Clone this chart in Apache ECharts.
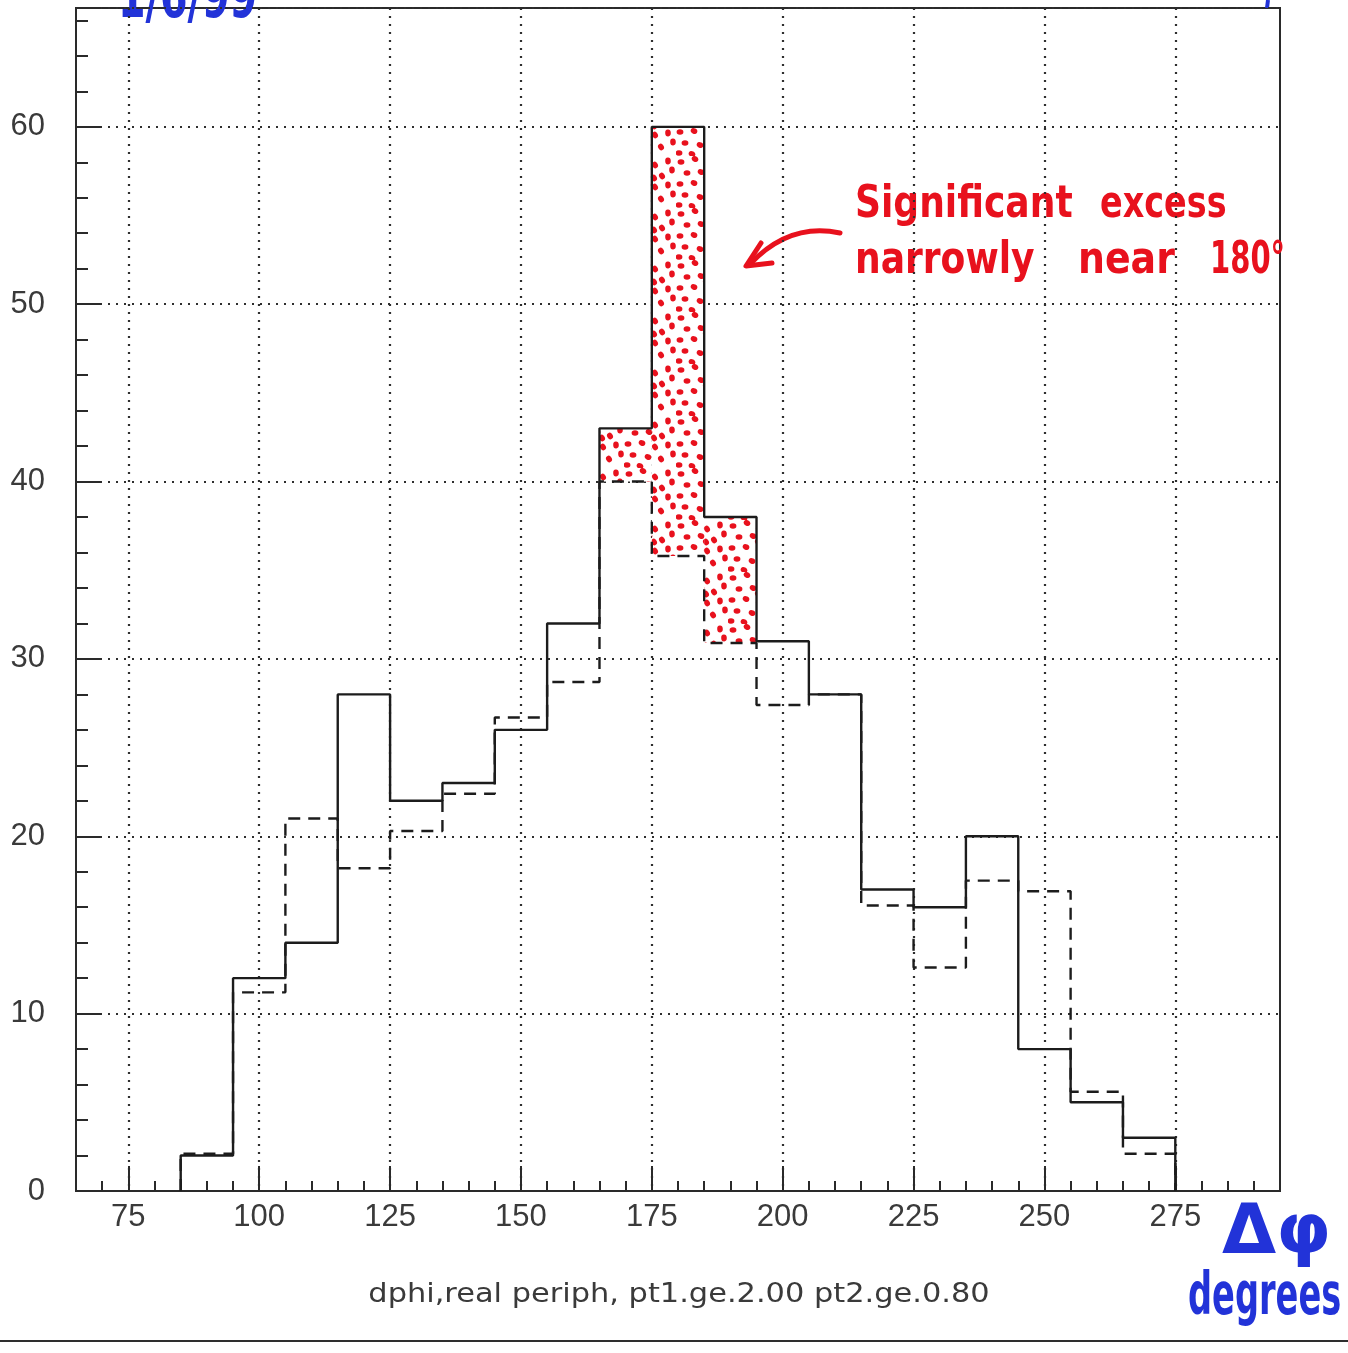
<!DOCTYPE html>
<html>
<head>
<meta charset="utf-8">
<style>
  html, body { margin: 0; padding: 0; background: #ffffff; }
  #chart { width: 1348px; height: 1353px; }
</style>
<script src="https://cdn.jsdelivr.net/npm/echarts@6/dist/echarts.min.js"></script>
</head>
<body>
<div id="chart"></div>
<script>
// Delta-phi histogram, 10 degree bins from 85 to 275
const binEdges = [85, 95, 105, 115, 125, 135, 145, 155, 165, 175, 185, 195, 205, 215, 225, 235, 245, 255, 265, 275];
// solid histogram: real pairs
const realCounts = [2, 12, 14, 28, 22, 23, 26, 32, 43, 60, 38, 31, 28, 17, 16, 20, 8, 5, 3];
// dashed histogram: reference shape
const refCounts = [2.1, 11.2, 21, 18.2, 20.3, 22.4, 26.7, 28.7, 40, 35.8, 30.9, 27.4, 28, 16.1, 12.6, 17.5, 16.9, 5.6, 2.1];
// bins (left edges) whose excess over the dashed shape is shaded
const excessBins = [165, 175, 185];
const xMajorTicks = [75, 100, 125, 150, 175, 200, 225, 250, 275];
const xTitle = 'dphi,real periph, pt1.ge.2.00 pt2.ge.0.80';

// outline of a histogram as a closed staircase
function staircase(edges, values) {
  const pts = [[edges[0], 0]];
  for (let i = 0; i < values.length; i++) {
    pts.push([edges[i], values[i]]);
    pts.push([edges[i + 1], values[i]]);
  }
  pts.push([edges[edges.length - 1], 0]);
  return pts;
}

// excess rectangles: [x0, x1, low, high]
const excessData = excessBins.map(function (e) {
  const i = binEdges.indexOf(e);
  return [binEdges[i], binEdges[i + 1], refCounts[i], realCounts[i]];
});

// red stipple texture, hand-placed dots
function makeStipple() {
  const c = document.createElement('canvas');
  c.width = 52; c.height = 52;
  const g = c.getContext('2d');
  g.fillStyle = '#ffffff';
  g.fillRect(0, 0, 52, 52);
  g.fillStyle = '#e8111d';
  const dots = [
    [5, 6], [19, 3], [31, 9], [44, 5], [11, 17], [25, 16], [38, 20], [48, 14],
    [4, 28], [18, 27], [31, 31], [44, 29], [9, 39], [24, 41], [37, 43], [49, 38],
    [3, 49], [16, 50], [30, 22]
  ];
  dots.forEach(function (d, k) {
    g.beginPath();
    g.ellipse(d[0], d[1], 3.4, 2.8, (k % 4) * 0.5, 0, Math.PI * 2);
    g.fill();
  });
  return { image: c, repeat: 'repeat' };
}
const stipple = makeStipple();

const axisColor = '#2a2a2a';
const labelColor = '#3a3a3a';
const gridLine = { color: '#2e2e2e', width: 2.2, type: [2, 6] };
const tickFont = 'Liberation Sans';
const inkRed = '#e8111d';
const inkBlue = '#2233d8';

const chart = echarts.init(document.getElementById('chart'), null, { renderer: 'canvas' });

const option = {
  backgroundColor: '#ffffff',
  animation: false,
  grid: {
    left: 76, right: 68, top: 8, bottom: 162,
    show: true, borderColor: axisColor, borderWidth: 2, backgroundColor: 'transparent'
  },
  xAxis: [
    {
      type: 'value', min: 65, max: 295, interval: 5, position: 'bottom',
      axisLine: { show: true, lineStyle: { color: axisColor, width: 2 } },
      axisTick: { show: true, inside: true, length: 10, lineStyle: { color: axisColor, width: 2 } },
      axisLabel: { show: false },
      splitLine: { show: false }
    },
    {
      type: 'value', min: 65, max: 295, position: 'bottom',
      axisLine: { show: false },
      axisTick: { show: true, inside: true, length: 25, customValues: xMajorTicks,
        lineStyle: { color: axisColor, width: 2 } },
      axisLabel: { show: true, customValues: xMajorTicks, margin: 11,
        color: labelColor, fontSize: 31, fontFamily: tickFont },
      splitLine: { show: true, lineStyle: gridLine }
    }
  ],
  yAxis: [
    {
      type: 'value', min: 0, max: 66.7, interval: 2, position: 'left',
      axisLine: { show: true, lineStyle: { color: axisColor, width: 2 } },
      axisTick: { show: true, inside: true, length: 12, lineStyle: { color: axisColor, width: 2 } },
      axisLabel: { show: false },
      splitLine: { show: false }
    },
    {
      type: 'value', min: 0, max: 66.7, interval: 10, position: 'left',
      axisLine: { show: false },
      axisTick: { show: true, inside: true, length: 25, lineStyle: { color: axisColor, width: 2 } },
      axisLabel: { show: true, margin: 31, color: labelColor, fontSize: 31, fontFamily: tickFont,
        formatter: function (v) { return v % 10 === 0 ? String(v) : ''; } },
      splitLine: { show: true, lineStyle: gridLine }
    }
  ],
  series: [
    {
      type: 'custom', name: 'excess', xAxisIndex: 0, yAxisIndex: 0, z: 1,
      data: excessData,
      renderItem: function (params, api) {
        const a = api.coord([api.value(0), api.value(3)]);
        const b = api.coord([api.value(1), api.value(2)]);
        return {
          type: 'rect',
          shape: { x: a[0], y: a[1], width: b[0] - a[0], height: b[1] - a[1] },
          style: { fill: stipple, stroke: null }
        };
      }
    },
    {
      type: 'line', name: 'reference', xAxisIndex: 0, yAxisIndex: 0, z: 3,
      data: staircase(binEdges, refCounts),
      symbol: 'none', silent: true,
      lineStyle: { color: '#1c1c1c', width: 2.4, type: [12, 8] }
    },
    {
      type: 'line', name: 'real', xAxisIndex: 0, yAxisIndex: 0, z: 4,
      data: staircase(binEdges, realCounts),
      symbol: 'none', silent: true,
      lineStyle: { color: '#1c1c1c', width: 2.4, type: 'solid' }
    }
  ],
  graphic: [
    // axis title
    { type: 'text', x: 679, y: 1282, scaleX: 1.17,
      style: { text: xTitle, fill: labelColor, font: '26px "DejaVu Sans"', textAlign: 'center' } },
    // page edge line
    { type: 'line', shape: { x1: 0, y1: 1341, x2: 1348, y2: 1341 },
      style: { stroke: '#2e2e2e', lineWidth: 2 } },
    // handwritten note and arrow
    { type: 'text', x: 855, y: 184, scaleX: 0.82,
      style: { text: 'Significant', fill: inkRed, font: 'bold 44px "DejaVu Sans"' } },
    { type: 'text', x: 1100, y: 184, scaleX: 0.76,
      style: { text: 'excess', fill: inkRed, font: 'bold 44px "DejaVu Sans"' } },
    { type: 'text', x: 855, y: 240, scaleX: 0.82,
      style: { text: 'narrowly', fill: inkRed, font: 'bold 44px "DejaVu Sans"' } },
    { type: 'text', x: 1078, y: 240, scaleX: 0.86,
      style: { text: 'near', fill: inkRed, font: 'bold 44px "DejaVu Sans"' } },
    { type: 'text', x: 1210, y: 240, scaleX: 0.66,
      style: { text: '180°', fill: inkRed, font: 'bold 44px "DejaVu Sans"' } },
    { type: 'bezierCurve', shape: { x1: 840, y1: 233, x2: 750, y2: 264, cpx1: 790, cpy1: 222 },
      style: { stroke: inkRed, lineWidth: 5, lineCap: 'round', fill: null } },
    { type: 'polyline', shape: { points: [[761, 243], [746, 266], [772, 263]] },
      style: { stroke: inkRed, lineWidth: 5, lineCap: 'round', lineJoin: 'round', fill: null } },
    // handwritten axis label
    { type: 'text', x: 1222, y: 1200,
      style: { text: 'Δφ', fill: inkBlue, font: 'bold 70px "DejaVu Sans"' } },
    { type: 'text', x: 1188, y: 1270, scaleX: 0.58,
      style: { text: 'degrees', fill: inkBlue, font: 'bold 58px "DejaVu Sans"' } },
    // date, clipped at the page top
    { type: 'text', x: 118, y: -29, scaleX: 0.66,
      style: { text: '1/6/99', fill: inkBlue, font: 'bold 60px "DejaVu Sans"' } },
    { type: 'line', shape: { x1: 1268, y1: 0, x2: 1267, y2: 8 },
      style: { stroke: inkBlue, lineWidth: 4 } }
  ]
};

chart.setOption(option);
</script>
</body>
</html>
